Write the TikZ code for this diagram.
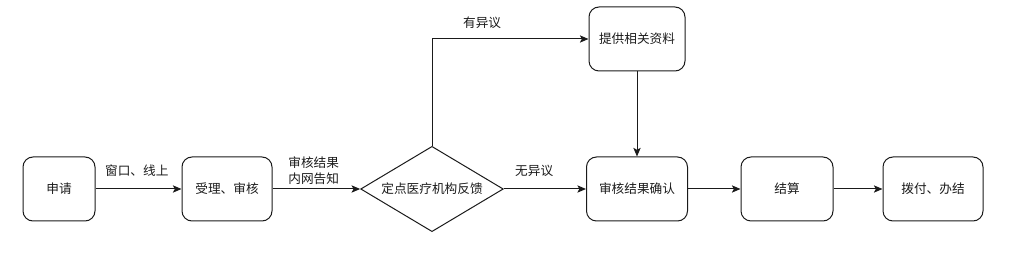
\documentclass[tikz,border=0pt]{standalone}
\usepackage{fontspec}
\newfontfamily\cjk{Noto Sans CJK SC}
\usetikzlibrary{arrows.meta,shapes.geometric}
\definecolor{ink}{HTML}{1A1A1A}

\begin{document}
\begin{tikzpicture}[x=0.75pt,y=-0.75pt,font=\cjk\fontsize{9.5}{12}\selectfont,text=ink,line width=0.75pt]
  \useasboundingbox (0,0) rectangle (1018,256);
  % Rounded process boxes, one feedback diamond, plain arrows between them.
  \tikzset{stepbox/.style={draw=ink,rounded corners=7.5pt,minimum height=48pt,inner sep=0pt},
    decision/.style={draw=ink,diamond,minimum width=107pt,minimum height=64pt,inner sep=0pt},
    flow/.style={draw=ink,-{Stealth[length=6.5pt,width=5.5pt,inset=1.5pt]}},
    lbl/.style={yshift=13.5pt,align=center,inner sep=0pt}}

  % Main line, left to right.
  \node[stepbox,minimum width=54pt] (apply) at (59,189) {申请};
  \node[stepbox,minimum width=67.5pt] (accept) at (227,189) {受理、审核};
  \node[decision] (fb) at (432,189) {};
  \node (fbtext) at (fb) {定点医疗机构反馈};
  \node[stepbox,minimum width=75.75pt] (confirm) at (637,189) {审核结果确认};
  \node[stepbox,minimum width=69pt] (settle) at (787,189) {结算};
  \node[stepbox,minimum width=75pt] (pay) at (933,189) {拨付、办结};

  % Detour taken when the institution objects.
  \node[stepbox,minimum width=72pt] (docs) at (637,39) {提供相关资料};

  \draw[flow] (apply) -- node[lbl,pos=0.48] {窗口、线上} (accept);
  \draw[flow] (accept) -- node[lbl,pos=0.47] {审核结果\\内网告知} (fb);
  \draw[flow] (fb) -- node[lbl,pos=0.37] {无异议} (confirm);
  \draw[flow] (fb.north) |- node[lbl,pos=0.66,yshift=-1.5pt] {有异议} (docs.west);
  \draw[flow] (docs) -- (confirm);
  \draw[flow] (confirm) -- (settle);
  \draw[flow] (settle) -- (pay);
\end{tikzpicture}
\end{document}
